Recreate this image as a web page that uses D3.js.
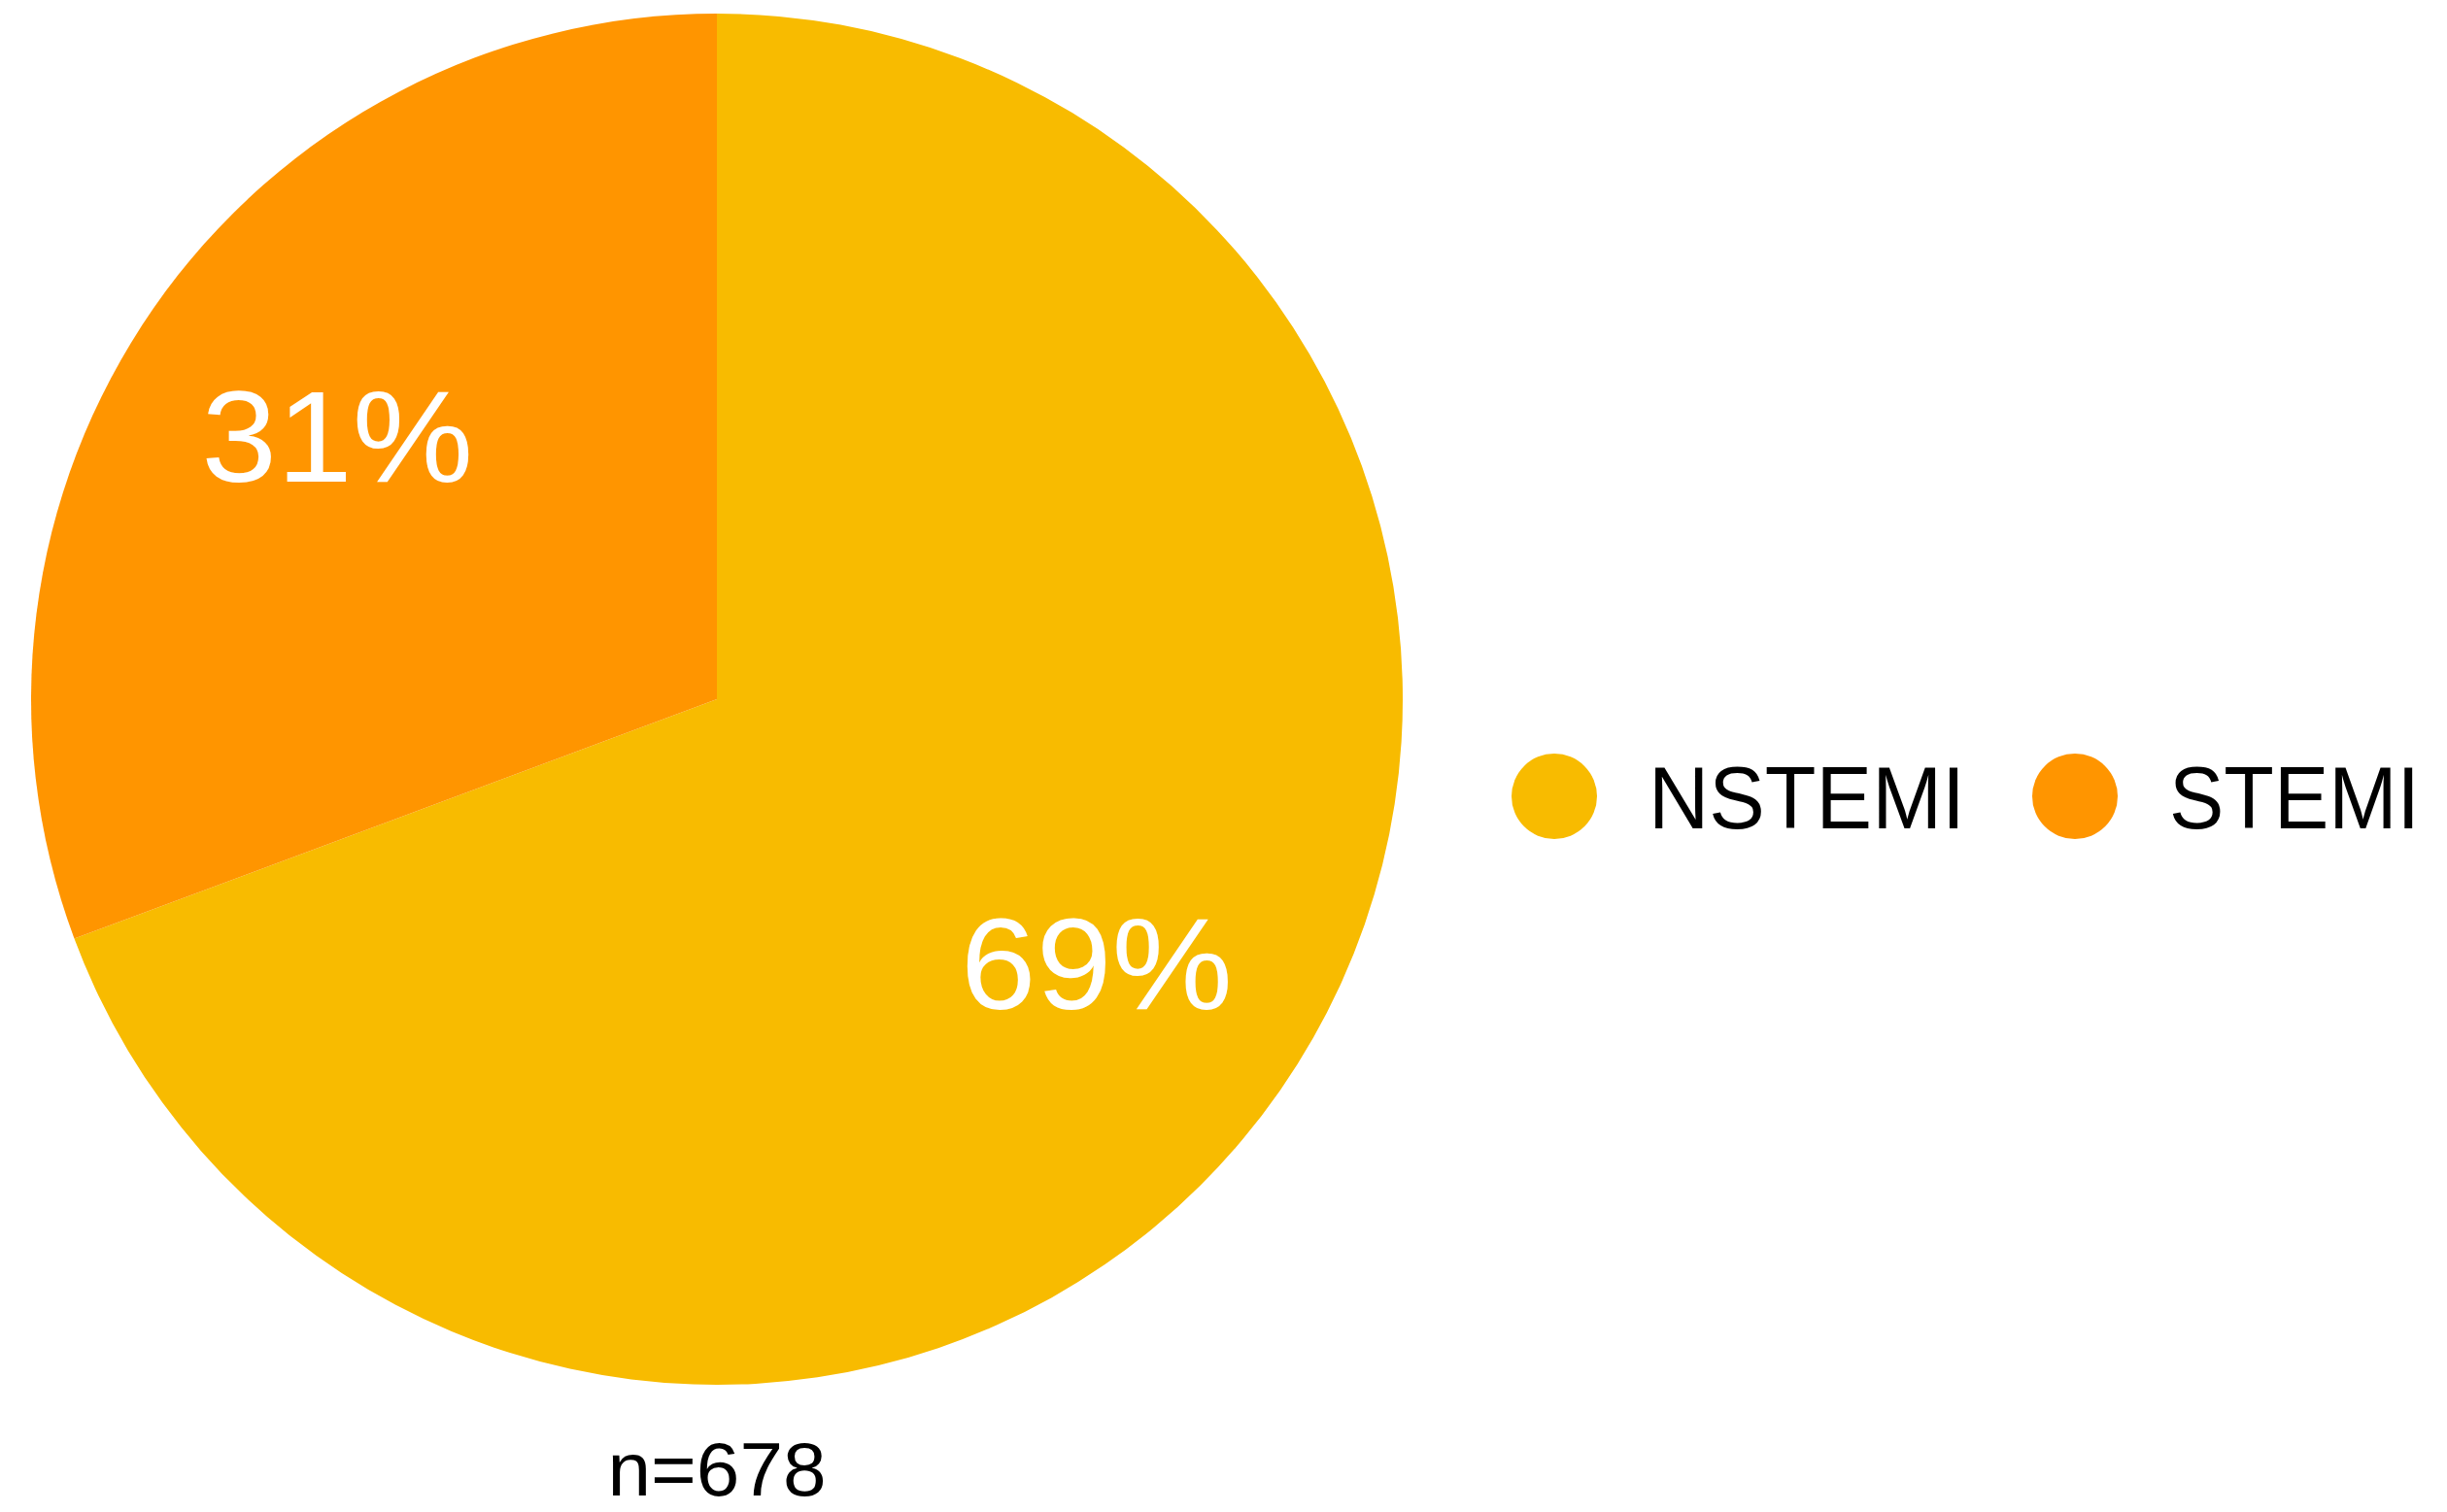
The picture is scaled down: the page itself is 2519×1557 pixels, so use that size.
<!DOCTYPE html>
<html>
<head>
<meta charset="utf-8">
<script src="https://cdn.jsdelivr.net/npm/d3@7/dist/d3.min.js"></script>
<style>
html, body { margin: 0; padding: 0; background: #ffffff; }
svg { display: block; }
text { font-family: "Liberation Sans", Arial, Helvetica, sans-serif; }
</style>
</head>
<body>
<script>
const categories = ["NSTEMI", "STEMI"];
const counts = [470, 208];
const percentLabels = ["69%", "31%"];
const colors = ["#F8BB00", "#FF9500"];
const sampleLabel = "n=678";

const W = 2519, H = 1557;
const cx = 738, cy = 720, R = 706;

const svg = d3.select("body").append("svg")
  .attr("width", W).attr("height", H);

const data = categories.map((c, i) => ({ cat: c, value: counts[i], label: percentLabels[i], color: colors[i] }));

const pie = d3.pie().sort(null).value(d => d.value);
const arcs = pie(data);
const arc = d3.arc().innerRadius(0).outerRadius(R);
const labelArc = d3.arc().innerRadius(R * 0.674).outerRadius(R * 0.674);

const g = svg.append("g").attr("transform", `translate(${cx},${cy})`);

g.selectAll("path.slice").data(arcs).join("path")
  .attr("class", "slice")
  .attr("d", arc)
  .attr("fill", d => d.data.color);

g.selectAll("text.pct").data(arcs).join("text")
  .attr("class", "pct")
  .attr("transform", d => `translate(${labelArc.centroid(d)})`)
  .attr("text-anchor", "middle")
  .attr("dy", "0.355em")
  .attr("fill", "#ffffff")
  .attr("font-size", 134)
  .attr("textLength", 280)
  .attr("lengthAdjust", "spacingAndGlyphs")
  .text(d => d.data.label);

// sample size
svg.append("text")
  .attr("x", cx).attr("y", 1540)
  .attr("text-anchor", "middle")
  .attr("font-size", 78)
  .attr("fill", "#000000")
  .attr("textLength", 225)
  .attr("lengthAdjust", "spacingAndGlyphs")
  .text(sampleLabel);

// legend
const legendX = d3.scaleOrdinal().domain(categories).range([1600, 2136]);
const legendWidths = [326, 258];
const lg = svg.append("g").attr("class", "legend");
const items = lg.selectAll("g").data(data).join("g")
  .attr("transform", d => `translate(${legendX(d.cat)},820)`);
items.append("circle").attr("r", 44).attr("fill", d => d.color);
items.append("text")
  .attr("x", 97).attr("y", 33)
  .attr("font-size", 91)
  .attr("fill", "#000000")
  .attr("textLength", (d, i) => legendWidths[i])
  .attr("lengthAdjust", "spacingAndGlyphs")
  .text(d => d.cat);
</script>
</body>
</html>
